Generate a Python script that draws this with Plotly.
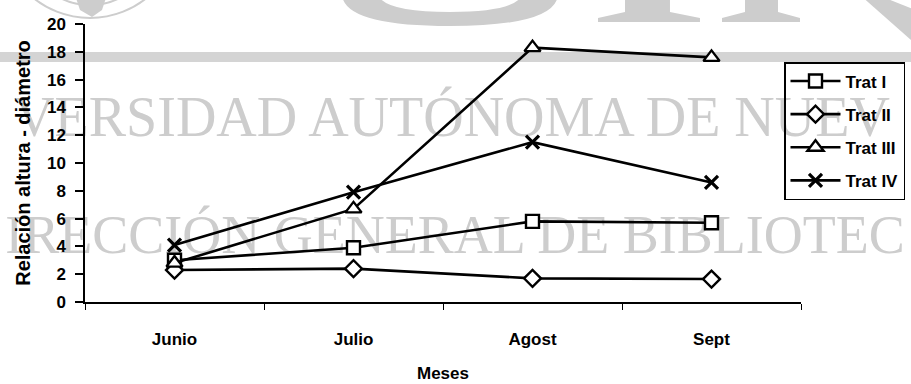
import plotly.graph_objects as go

months = ["Junio", "Julio", "Agost", "Sept"]
trat_names = ["Trat I", "Trat II", "Trat III", "Trat IV"]
trat1 = [3.0, 3.9, 5.8, 5.7]
trat2 = [2.3, 2.4, 1.7, 1.65]
trat3 = [2.8, 6.7, 18.3, 17.6]
trat4 = [4.1, 7.9, 11.5, 8.6]
y_ticks = [0, 2, 4, 6, 8, 10, 12, 14, 16, 18, 20]

W, H = 911, 384
L, R, T, B = 85, 110, 24, 82
PW, PH = W - L - R, H - T - B


def px(x):
    return (x - L) / PW


def py(y):
    return (H - B - y) / PH


def path(pts_cmds):
    out = []
    for c in pts_cmds:
        if isinstance(c, str):
            out.append(c)
        else:
            out.append(f"{px(c[0]):.4f},{py(c[1]):.4f}")
    return " ".join(out)


FONT = "Liberation Sans, Arial, sans-serif"
SERIF = "Liberation Serif, Times New Roman, serif"
WM = "#cdcdcd"

fig = go.Figure()
series = [trat1, trat2, trat3, trat4]
symbols = ["square", "diamond", "triangle-up", "x-thin"]
sizes = [13, 13, 14, 13]
for name, vals, sym, sz in zip(trat_names, series, symbols, sizes):
    fig.add_trace(go.Scatter(
        x=months, y=vals, name=name, legendgroup=name,
        mode="lines+markers",
        line=dict(color="black", width=2.6),
        marker=dict(symbol=sym, size=sz, color="white" if sym != "x-thin" else "black",
                    line=dict(color="black", width=2.4 if sym != "x-thin" else 3.2)),
        cliponaxis=False,
    ))

shapes = [
    # gray band
    dict(type="rect", xref="paper", yref="paper", x0=px(-20), x1=px(W + 20),
         y0=py(62), y1=py(52), fillcolor="#d4d4d4", line=dict(width=0), layer="below"),
    # seal circles
    dict(type="circle", xref="paper", yref="paper", x0=px(0), x1=px(180),
         y0=py(18), y1=py(-162), line=dict(color=WM, width=2), layer="below"),
    dict(type="circle", xref="paper", yref="paper", x0=px(25), x1=px(155),
         y0=py(5), y1=py(-125), line=dict(color=WM, width=2), layer="below"),
    dict(type="path", xref="paper", yref="paper", layer="below", fillcolor=WM, line=dict(width=0),
         path=path(["M", (75, -5), "L", (80, 10), "L", (92, 17), "L", (102, 10), "L", (107, -5), "Z"])),
    # bottoms of the big watermark letters
    dict(type="path", xref="paper", yref="paper", layer="below", fillcolor=WM, line=dict(width=0),
         path=path(["M", (342, -5), "Q", (345, 26), (450, 26), "Q", (555, 26), (558, -5),
                    "L", (522, -5), "Q", (515, 12), (450, 12), "Q", (385, 12), (378, -5), "Z"])),
    dict(type="path", xref="paper", yref="paper", layer="below", fillcolor=WM, line=dict(width=0),
         path=path(["M", (625, -5), "L", (625, 12), "L", (598, 18), "L", (598, 22), "L", (700, 22),
                    "L", (700, 18), "L", (670, 12), "L", (670, -5), "Z"])),
    dict(type="path", xref="paper", yref="paper", layer="below", fillcolor=WM, line=dict(width=0),
         path=path(["M", (745, -5), "L", (745, 12), "L", (722, 18), "L", (722, 22), "L", (800, 22),
                    "L", (800, 18), "L", (778, 12), "L", (778, -5), "Z"])),
    dict(type="path", xref="paper", yref="paper", layer="below", fillcolor=WM, line=dict(width=0),
         path=path(["M", (860, -5), "L", (911, 40), "L", (915, 40), "L", (915, 10), "L", (878, -5), "Z"])),
]
wm_texts = [
    ("VERSIDAD AUTÓNOMA DE NUEV", 56, 452, 111),
    ("IRECCIÓN GENERAL DE BIBLIOTEC", 54, 455, 229),
]
for txt, fs, cx, cy in wm_texts:
    shapes.append(dict(
        type="rect", xref="paper", yref="paper",
        x0=px(cx - 5), x1=px(cx + 5), y0=py(cy + 5), y1=py(cy - 5),
        line=dict(width=0), fillcolor="rgba(0,0,0,0)", layer="below",
        label=dict(text=txt, textposition="middle center",
                   font=dict(family=SERIF, size=fs, color=WM, weight="normal")),
    ))

fig.update_layout(
    width=W, height=H,
    margin=dict(l=L, r=R, t=T, b=B, autoexpand=False),
    paper_bgcolor="white", plot_bgcolor="rgba(0,0,0,0)",
    font=dict(family=FONT, size=17, color="black", weight="bold"),
    shapes=shapes,
    showlegend=True,
    legend=dict(
        x=px(784), y=py(62), xanchor="left", yanchor="top",
        bgcolor="rgba(0,0,0,0)", bordercolor="black", borderwidth=1.5,
        font=dict(family=FONT, size=17, color="black", weight="bold"),
        traceorder="grouped", tracegroupgap=8, itemwidth=50,
    ),
    xaxis=dict(
        type="category", categoryorder="array", categoryarray=months,
        range=[-0.5, 3.5], showgrid=False, zeroline=False,
        showline=True, linecolor="black", linewidth=1.5,
        ticks="outside", tickson="boundaries", ticklen=6, tickwidth=1.2, tickcolor="black",
        ticklabelstandoff=21,
        tickfont=dict(family=FONT, size=17, color="black", weight="bold"),
        title=dict(text="Meses", standoff=19,
                   font=dict(family=FONT, size=17, color="black", weight="bold")),
    ),
    yaxis=dict(
        range=[0, 20], tickvals=y_ticks, showgrid=False, zeroline=False,
        showline=True, linecolor="black", linewidth=1.5,
        ticks="outside", ticklen=8, tickwidth=1.5, tickcolor="black",
        ticklabelstandoff=6,
        tickfont=dict(family=FONT, size=17, color="black", weight="bold"),
        title=dict(text="Relación altura - diámetro", standoff=11,
                   font=dict(family=FONT, size=20, color="black", weight="bold")),
    ),
)

fig.write_html("out.html")
